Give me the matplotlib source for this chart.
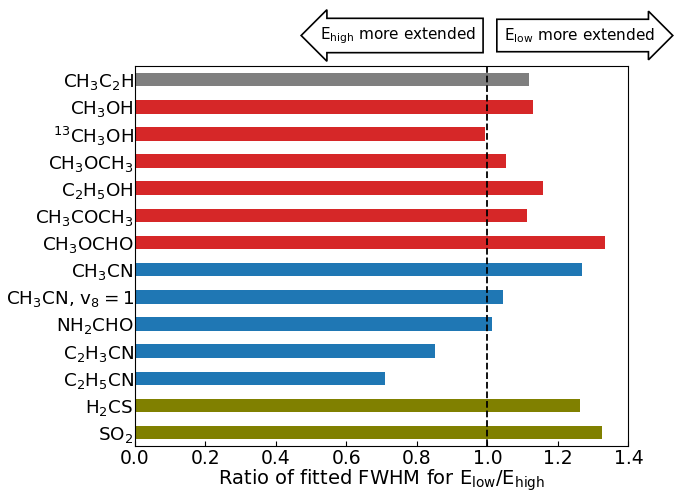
import matplotlib
matplotlib.use('Agg')
import matplotlib.pyplot as plt
import numpy as np

plt.rcParams['mathtext.default'] = 'regular'

molecules = ['CH$_3$C$_2$H', 'CH$_3$OH', '$^{13}$CH$_3$OH', 'CH$_3$OCH$_3$', 'C$_2$H$_5$OH',
             'CH$_3$COCH$_3$', 'CH$_3$OCHO', 'CH$_3$CN', 'CH$_3$CN, v$_8=1$', 'NH$_2$CHO',
             'C$_2$H$_3$CN', 'C$_2$H$_5$CN', 'H$_2$CS', 'SO$_2$']
ratios = [1.119, 1.130, 0.994, 1.054, 1.159, 1.113, 1.334, 1.269, 1.045, 1.014,
          0.850, 0.708, 1.263, 1.326]
groups = ['grey', 'red', 'red', 'red', 'red', 'red', 'red', 'blue', 'blue', 'blue',
          'blue', 'blue', 'olive', 'olive']
group_colors = {'grey': '#7f7f7f', 'red': '#d62728', 'blue': '#1f77b4', 'olive': '#808000'}

fig = plt.figure(figsize=(6.75, 4.93), dpi=100)
ax = fig.add_axes([0.2, 0.095, 0.731, 0.771])

y = np.arange(len(molecules))
ax.barh(y, ratios, height=0.5, color=[group_colors[g] for g in groups])
ax.axvline(1.0, color='k', ls='--', lw=1.3)
ax.set_yticks(y)
ax.set_yticklabels(molecules)
ax.set_ylim(len(molecules) - 0.5, -0.5)
ax.set_xlim(0, 1.4)
ax.set_xticks(np.arange(0, 1.41, 0.2))
ax.tick_params(axis='x', direction='in', labelsize=13.5, pad=2)
ax.tick_params(axis='y', length=0, pad=1, labelsize=13.2)
ax.set_xlabel('Ratio of fitted FWHM for E$_{low}$/E$_{high}$', fontsize=14, labelpad=0)

# arrows showing which energy range is more extended
fig.text(0.59, 0.928, 'E$_{high}$ more extended', fontsize=11, ha='center', va='center',
         bbox=dict(boxstyle='larrow,pad=0.45', fc='white', ec='k', lw=1.2))
fig.text(0.858, 0.928, 'E$_{low}$ more extended', fontsize=11, ha='center', va='center',
         bbox=dict(boxstyle='rarrow,pad=0.45', fc='white', ec='k', lw=1.2))

plt.savefig('out.png')
